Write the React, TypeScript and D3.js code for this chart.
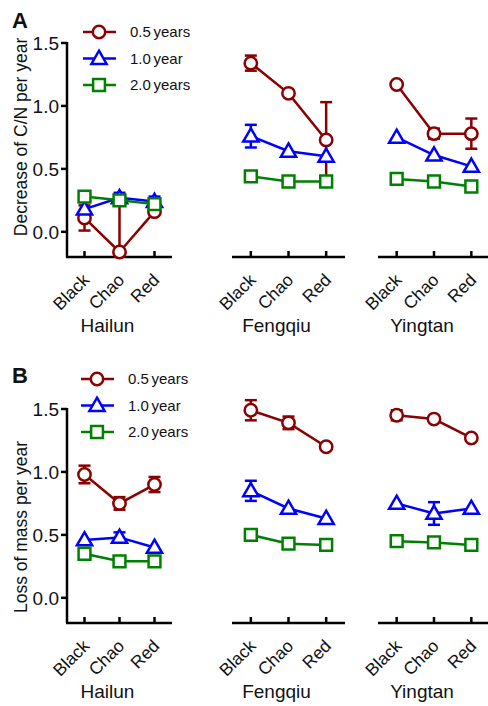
import React from 'react';
import * as d3 from 'd3';

// categories
const soils = ['Black', 'Chao', 'Red'];
const sites = ['Hailun', 'Fengqiu', 'Yingtan'];
const durations = ['0.5 years', '1.0 year', '2.0 years'];
const yTicks = [0, 0.5, 1.0, 1.5];

// panel A: decrease of C/N per year (site x soil, 9 values)
const cnHalf = [0.11, -0.16, 0.16, 1.34, 1.10, 0.73, 1.17, 0.78, 0.78];
const cnHalfErr = [0.10, 0.40, 0, 0.06, 0, 0.30, 0, 0.04, 0.12];
const cnOne = [0.18, 0.27, 0.24, 0.76, 0.64, 0.60, 0.75, 0.61, 0.52];
const cnOneErr = [0, 0.04, 0.04, 0.09, 0, 0, 0, 0, 0];
const cnTwo = [0.28, 0.25, 0.22, 0.44, 0.40, 0.40, 0.42, 0.40, 0.36];
const cnTwoErr = [0, 0, 0, 0, 0, 0, 0, 0, 0];

// panel B: loss of mass per year
const massHalf = [0.98, 0.75, 0.90, 1.49, 1.39, 1.20, 1.45, 1.42, 1.27];
const massHalfErr = [0.07, 0.05, 0.06, 0.08, 0.05, 0, 0.04, 0, 0];
const massOne = [0.46, 0.48, 0.40, 0.85, 0.71, 0.63, 0.75, 0.67, 0.71];
const massOneErr = [0, 0.04, 0, 0.08, 0, 0, 0, 0.09, 0];
const massTwo = [0.35, 0.29, 0.29, 0.50, 0.43, 0.42, 0.45, 0.44, 0.42];
const massTwoErr = [0, 0, 0, 0, 0, 0, 0, 0, 0];

const colors = ['#8b0000', '#0000ff', '#008000'];
const shapes = [d3.symbolCircle, d3.symbolTriangle, d3.symbolSquare];
const symSizes = [120, 100, 140];

const font = '"Liberation Sans", Arial, sans-serif';
const xRanges: [number, number][] = [[67, 172], [232, 345], [378, 490]];
const xScales = xRanges.map(r => d3.scalePoint<string>().domain(soils).range(r).padding(0.5));

function Marker({ x, y, i }: { x: number; y: number; i: number }) {
  const path = d3.symbol().type(shapes[i]).size(symSizes[i])() as string;
  return (
    <path d={path} transform={`translate(${x},${y + (i === 1 ? 1 : 0)})`}
      fill="#fff" stroke={colors[i]} strokeWidth={2.5} />
  );
}

function Panel({ letter, title, top, axisY, titleY, letterY, series, errs, legendX, legendY }: any) {
  const y = d3.scaleLinear().domain([-0.2, 1.5]).range([axisY, top]);
  const sw = 2.5;
  return (
    <g fontFamily={font} fill="#111">
      <text x={12} y={letterY} fontSize={22} fontWeight="bold">{letter}</text>
      <text transform={`translate(27,${titleY}) rotate(-90)`} textAnchor="middle" fontSize={17.5}>{title}</text>

      {/* y axis */}
      <line x1={67} x2={67} y1={top - 1} y2={axisY} stroke="#000" strokeWidth={sw} />
      {yTicks.map(t => (
        <g key={t}>
          <line x1={61} x2={67} y1={y(t)} y2={y(t)} stroke="#000" strokeWidth={sw} />
          <text x={59} y={y(t)} dy="0.36em" textAnchor="end" fontSize={19}>{d3.format('.1f')(t)}</text>
        </g>
      ))}

      {/* x axes per site */}
      {sites.map((s, k) => {
        const x = xScales[k];
        const cx = (x(soils[0])! + x(soils[2])!) / 2 - 12;
        return (
          <g key={s}>
            <line x1={xRanges[k][0] - (k === 0 ? 1 : 0)} x2={xRanges[k][1]} y1={axisY} y2={axisY} stroke="#000" strokeWidth={sw} />
            {soils.map(c => (
              <g key={c}>
                <line x1={x(c)} x2={x(c)} y1={axisY} y2={axisY - 6} stroke="#000" strokeWidth={sw} />
                <text transform={`translate(${x(c)! + 6},${axisY + 24}) rotate(-45)`} textAnchor="end" fontSize={17.5}>{c}</text>
              </g>
            ))}
            <text x={cx} y={axisY + 75} textAnchor="middle" fontSize={19}>{s}</text>
          </g>
        );
      })}

      {/* series */}
      {series.map((vals: number[], i: number) => (
        <g key={i}>
          {sites.map((s, k) => {
            const x = xScales[k];
            const pts = soils.map((c, j) => [x(c)!, y(vals[k * 3 + j])] as [number, number]);
            return (
              <g key={s}>
                <path d={d3.line()(pts)!} fill="none" stroke={colors[i]} strokeWidth={sw} />
                {soils.map((c, j) => {
                  const v = vals[k * 3 + j];
                  const e = errs[i][k * 3 + j];
                  if (!e) return null;
                  const lo = v - e;
                  const clipped = lo < -0.2;
                  const y0 = y(Math.max(lo, -0.2));
                  const y1 = y(v + e);
                  const px = x(c)!;
                  return (
                    <g key={c} stroke={colors[i]} strokeWidth={sw}>
                      <line x1={px} x2={px} y1={y0} y2={y1} />
                      <line x1={px - 6} x2={px + 6} y1={y1} y2={y1} />
                      {!clipped && <line x1={px - 6} x2={px + 6} y1={y0} y2={y0} />}
                    </g>
                  );
                })}
                {soils.map((c, j) => (
                  <Marker key={c} x={x(c)!} y={y(vals[k * 3 + j])} i={i} />
                ))}
              </g>
            );
          })}
        </g>
      ))}

      {/* legend */}
      {durations.map((d, i) => {
        const ly = legendY + i * 26.5;
        return (
          <g key={d}>
            <line x1={legendX - 16} x2={legendX + 17} y1={ly} y2={ly} stroke={colors[i]} strokeWidth={sw} />
            <Marker x={legendX} y={ly} i={i} />
            <text x={legendX + 31} y={ly} dy="0.36em" fontSize={15} wordSpacing={-1.5}>{d}</text>
          </g>
        );
      })}
    </g>
  );
}

export default function App() {
  return (
    <svg width={488} height={706} style={{ position: 'absolute', left: 0, top: 0, background: '#fff' }}>
      <Panel letter="A" title="Decrease of C/N per year" top={43} axisY={257} titleY={137} letterY={28}
        series={[cnHalf, cnOne, cnTwo]} errs={[cnHalfErr, cnOneErr, cnTwoErr]} legendX={99} legendY={32} />
      <Panel letter="B" title="Loss of mass per year" top={409} axisY={623} titleY={527} letterY={383}
        series={[massHalf, massOne, massTwo]} errs={[massHalfErr, massOneErr, massTwoErr]} legendX={97} legendY={379} />
    </svg>
  );
}
